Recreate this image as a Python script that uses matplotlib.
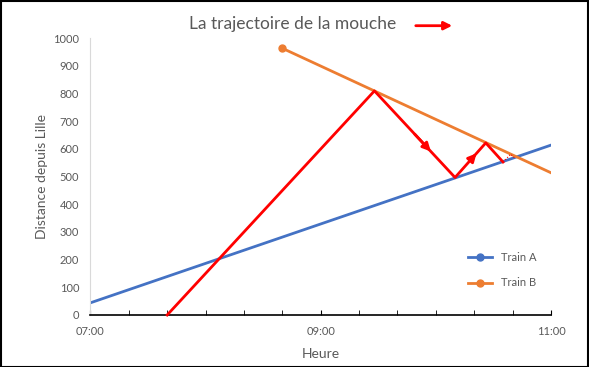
import matplotlib
matplotlib.use("Agg")
import matplotlib.pyplot as plt
from matplotlib.patches import Rectangle, FancyArrowPatch
from matplotlib.ticker import FuncFormatter, MultipleLocator, FixedLocator

plt.rcParams['font.family'] = ['Lato', 'DejaVu Sans']

def hours(s):
    h, m = s.split(':')
    return int(h) + int(m) / 60

# values
train_a_time = ["07:00", "11:00"]
train_a_dist = [44, 614]
train_b_time = ["08:40", "11:00"]
train_b_dist = [964, 514]
fly_time = ["07:40", "09:28", "10:10", "10:26", "10:35"]
fly_dist = [0, 810, 497, 622, 553]
fly_end_time = ["10:35", "10:39", "10:41"]
fly_end_dist = [553, 581, 568]
x_ticks = ["07:00", "09:00", "11:00"]

grey = '#595959'
blue = '#4472C4'
orange = '#ED7D31'

fig = plt.figure(figsize=(5.89, 3.67), dpi=100)
ax = fig.add_axes([0.1535, 0.1417, 0.782, 0.7539])

xa = [hours(t) for t in train_a_time]
xb = [hours(t) for t in train_b_time]
xf = [hours(t) for t in fly_time]
xe = [hours(t) for t in fly_end_time]

ax.plot(xa, train_a_dist, color=blue, lw=2, label='Train A', marker='o', ms=5, markevery=[])
ax.plot(xb, train_b_dist, color=orange, lw=2, label='Train B', marker='o', ms=5, markevery=[0])
ax.plot(xf, fly_dist, color='red', lw=2, clip_on=False, zorder=3)
ax.plot(xe, fly_end_dist, color='red', lw=0.8, ls=':', zorder=3)

# arrow heads along the fly path
for i in (1, 2):
    x0, x1 = xf[i], xf[i + 1]
    y0, y1 = fly_dist[i], fly_dist[i + 1]
    ax.annotate('', xy=(x0 + 0.7 * (x1 - x0), y0 + 0.7 * (y1 - y0)),
                xytext=(x0 + 0.5 * (x1 - x0), y0 + 0.5 * (y1 - y0)),
                arrowprops=dict(arrowstyle='-|>', color='red', lw=2,
                                mutation_scale=12, shrinkA=0, shrinkB=0), zorder=4)

ax.set_xlim(7, 11)
ax.set_ylim(0, 1000)
ax.xaxis.set_major_locator(FixedLocator([hours(t) for t in x_ticks]))
ax.xaxis.set_minor_locator(MultipleLocator(1 / 3))
ax.xaxis.set_major_formatter(FuncFormatter(lambda v, p: '%02d:%02d' % (int(v), round((v % 1) * 60))))
ax.yaxis.set_major_locator(MultipleLocator(100))

for s in ('top', 'right'):
    ax.spines[s].set_visible(False)
ax.spines['left'].set_color('#d9d9d9')
ax.spines['bottom'].set_color('black')
ax.spines['bottom'].set_linewidth(1.2)
ax.tick_params(axis='y', length=0, labelsize=8, labelcolor=grey, pad=8)
ax.tick_params(axis='x', which='both', direction='in', length=3.5, color='black',
               labelsize=8, labelcolor=grey, pad=8)

ax.set_xlabel('Heure', fontsize=10, color=grey, labelpad=8)
ax.set_ylabel('Distance depuis Lille', fontsize=10, color=grey, labelpad=4)

fig.text(293 / 589, 1 - 24 / 367, 'La trajectoire de la mouche', ha='center', va='center',
         fontsize=12.5, color=grey)
fig.add_artist(FancyArrowPatch((413 / 589, 1 - 25.7 / 367), (455 / 589, 1 - 25.7 / 367),
               transform=fig.transFigure, arrowstyle='-|>', color='red', lw=2, mutation_scale=12))

ax.legend(loc='lower right', bbox_to_anchor=(0.99, 0.06), frameon=False, fontsize=8,
          labelcolor=grey, handlelength=2.2, labelspacing=1.3)

fig.add_artist(Rectangle((0.001, 0.001), 0.997, 0.996, transform=fig.transFigure,
                         fill=False, edgecolor='black', lw=1.5))

fig.savefig('out.png', dpi=100)
